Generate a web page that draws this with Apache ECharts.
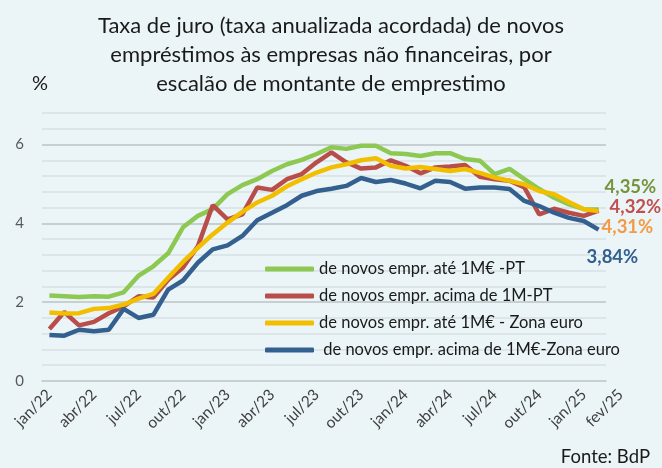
<!DOCTYPE html>
<html>
<head>
<meta charset="utf-8">
<script src="https://cdn.jsdelivr.net/npm/echarts@6/dist/echarts.min.js"></script>
<style>html,body{margin:0;padding:0;background:#EBF5F8;}#c{width:662px;height:468px;}</style>
</head>
<body>
<div id="c"></div>
<script>
const categories = ['jan/22','fev/22','mar/22','abr/22','mai/22','jun/22','jul/22','ago/22','set/22','out/22','nov/22','dez/22',
  'jan/23','fev/23','mar/23','abr/23','mai/23','jun/23','jul/23','ago/23','set/23','out/23','nov/23','dez/23',
  'jan/24','fev/24','mar/24','abr/24','mai/24','jun/24','jul/24','ago/24','set/24','out/24','nov/24','dez/24',
  'jan/25','fev/25'];
const ptAte1M = [2.17,2.15,2.13,2.15,2.14,2.25,2.67,2.91,3.24,3.90,4.19,4.36,4.74,4.97,5.12,5.33,5.50,5.61,5.76,5.93,5.89,5.97,5.97,5.78,5.76,5.71,5.78,5.78,5.63,5.59,5.25,5.38,5.12,4.87,4.65,4.48,4.36,4.35];
const ptAcima1M = [1.32,1.75,1.41,1.50,1.72,1.89,2.15,2.12,2.57,2.88,3.42,4.46,4.10,4.23,4.91,4.85,5.12,5.25,5.55,5.80,5.55,5.39,5.42,5.60,5.46,5.27,5.42,5.44,5.48,5.18,5.12,5.08,4.91,4.23,4.37,4.27,4.19,4.32];
const zeAte1M = [1.74,1.71,1.72,1.83,1.85,1.94,2.09,2.21,2.62,3.02,3.38,3.72,4.02,4.29,4.53,4.70,4.94,5.12,5.29,5.42,5.50,5.60,5.65,5.46,5.39,5.43,5.38,5.33,5.38,5.28,5.16,5.08,4.99,4.82,4.74,4.54,4.36,4.31];
const zeAcima1M = [1.17,1.15,1.30,1.26,1.30,1.83,1.60,1.68,2.32,2.55,3.00,3.34,3.44,3.68,4.08,4.27,4.46,4.70,4.82,4.88,4.95,5.15,5.05,5.10,5.01,4.89,5.08,5.05,4.88,4.91,4.91,4.87,4.57,4.44,4.27,4.14,4.06,3.84];
const seriesNames = ['de novos empr. até 1M€ -PT','de novos empr. acima de 1M-PT','de novos empr. até 1M€ - Zona euro',' de novos empr. acima de 1M€-Zona euro'];
const yTickLabels = [0,2,4,6];

const FONT = 'Lato';
const lineColors = ['#8DC852','#B94D4A','#F2BE00','#33608F'];
const labelColors = ['#77933C','#C0504D','#F39A45','#33608F'];
const endOffsets = [[2,-23],[7,-4],[-1,16],[-16,27]];
const seriesData = [ptAte1M, ptAcima1M, zeAte1M, zeAcima1M];
const LAST = categories.length - 1;
const X_LABEL_FONT = 15.5, X_LABEL_MARGIN = 11;

const chart = echarts.init(document.getElementById('c'), null, {renderer:'canvas'});
const fmt = v => v.toFixed(2).replace('.', ',') + '%';
const baseGraphics = [
  {type:'text', left: 32, top: 74, style:{text:'%', font:'20px '+FONT, fill:'#1a1a1a'}},
  {type:'text', right: 12, bottom: 1, style:{text:'Fonte: BdP', font:'18.5px '+FONT, fill:'#1a1a1a'}}
];
chart.setOption({
  backgroundColor: '#EBF5F8',
  animation: false,
  title: {
    text: 'Taxa de juro (taxa anualizada acordada) de novos\nempréstimos às empresas não financeiras, por\nescalão de montante de emprestimo',
    left: 'center', top: 6,
    textStyle: {fontFamily: FONT, fontSize: 22, fontWeight: 'normal', color: '#1a1a1a', lineHeight: 29}
  },
  graphic: baseGraphics,
  legend: {
    orient: 'vertical', left: 260, top: 254,
    itemWidth: 49, itemHeight: 5, itemGap: 7, icon: 'roundRect',
    textStyle: {fontFamily: FONT, fontSize: 16.5, color: '#1a1a1a', lineHeight: 20},
    data: seriesNames
  },
  grid: {left: 42, right: 56, top: 113, bottom: 87},
  xAxis: {
    type: 'category', data: categories, boundaryGap: true,
    axisLine: {lineStyle: {color: '#BFC5C8', width: 1.5}},
    axisTick: {length: 5, lineStyle: {color: '#BFC5C8'}, interval: (i) => i % 3 === 0},
    axisLabel: {interval: (i) => i % 3 === 0, rotate: 45, margin: X_LABEL_MARGIN,
      showMaxLabel: true, showMinLabel: true,
      fontFamily: FONT, fontSize: X_LABEL_FONT, color: '#404040'},
    splitLine: {show: false}
  },
  yAxis: [
    {type: 'value', min: 0, max: 6.8, interval: 2,
      axisLine: {show: false}, axisTick: {show: false},
      axisLabel: {fontFamily: FONT, fontSize: 15, color: '#595959', margin: 18,
        formatter: v => yTickLabels.indexOf(v) >= 0 ? String(v) : ''},
      splitLine: {show: true, showMaxLine: false, lineStyle: {color: '#C7CFD2', width: 2}}, z: 1},
    {type: 'value', min: 0, max: 6.8, interval: 0.4,
      axisLine: {show: false}, axisTick: {show: false}, axisLabel: {show: false},
      splitLine: {show: true, lineStyle: {color: '#DCE5E8', width: 2}}, z: 0}
  ],
  series: seriesData.map((d, k) => ({
    name: seriesNames[k], type: 'line', data: d, yAxisIndex: 0,
    symbol: 'none', smooth: false,
    lineStyle: {color: lineColors[k], width: 4.5},
    itemStyle: {color: lineColors[k]},
    endLabel: {show: true, offset: endOffsets[k], distance: 4,
      formatter: p => fmt(p.value),
      fontFamily: FONT, fontSize: 18.5, fontWeight: 'bold', color: labelColors[k]}
  }))
});

// last month label (fev/25), drawn beside the last category as in the original
const lastPx = chart.convertToPixel({xAxisIndex: 0, yAxisIndex: 0}, [LAST, 0]);
chart.setOption({
  graphic: baseGraphics.concat([
    {type:'text', x: lastPx[0] + 22, y: lastPx[1] + X_LABEL_MARGIN, rotation: Math.PI / 4,
      style:{text: categories[LAST], font: X_LABEL_FONT + 'px ' + FONT, fill:'#404040',
        textAlign:'right', textVerticalAlign:'middle'}}
  ])
});
</script>
</body>
</html>
